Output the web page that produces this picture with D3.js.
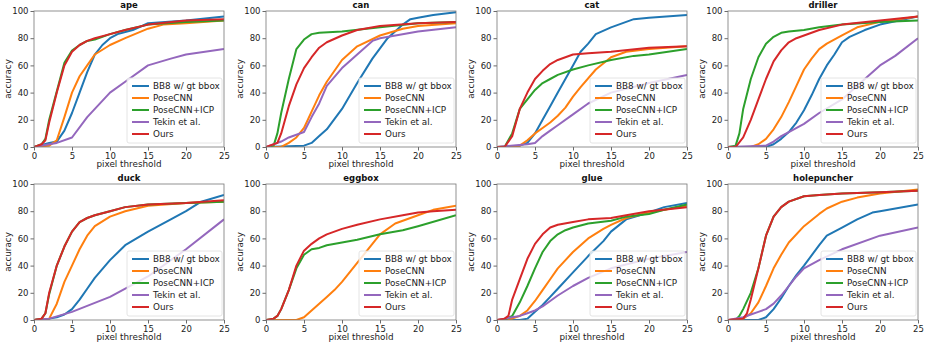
<!DOCTYPE html>
<html>
<head>
<meta charset="utf-8">
<script src="https://cdn.jsdelivr.net/npm/d3@7"></script>
<style>
  body { margin: 0; background: #fff; }
  svg { display: block; font-family: "DejaVu Sans", sans-serif; }
</style>
</head>
<body>
<svg id="svg" width="930" height="346"></svg>
<script>
// legend / series
const seriesNames = ["BB8 w/ gt bbox", "PoseCNN", "PoseCNN+ICP", "Tekin et al.", "Ours"];
const seriesColors = ["#1f77b4", "#ff7f0e", "#2ca02c", "#9467bd", "#d62728"];
const objects = ["ape", "can", "cat", "driller", "duck", "eggbox", "glue", "holepuncher"];
const xTicks = [0, 5, 10, 15, 20, 25];
const yTicks = [0, 20, 40, 60, 80, 100];

// each object: [bb8, posecnn, posecnn+icp, tekin, ours] as [threshold, accuracy]
const ape = [
  [[0,0],[2,3],[3,4],[4,12],[5,25],[6,40],[7,55],[8,68],[9,75],[10,80],[11,83],[13,86],[15,91],[20,93],[25,96]],
  [[0,0],[2,1],[3,5],[4,22],[5,40],[6,52],[7,60],[8,68],[10,75],[12,80],[15,87],[17,90],[20,91],[25,93]],
  [[0,0],[1,2],[1.5,6],[2,20],[3,41],[4,62],[5,71],[6,75],[7,78],[8,79],[10,83],[12,86],[15,90],[20,92],[25,93]],
  [[0,0],[2,2],[3,3],[5,7],[7,22],[10,40],[12,48],[15,60],[18,65],[20,68],[25,72]],
  [[0,0],[1,2],[1.5,5],[2,18],[3,40],[4,60],[5,70],[6,75],[7,78],[8,80],[10,83],[12,86],[15,90],[20,93],[25,94]]
];
const can = [
  [[0,0],[5,1],[6,3],[7,8],[8,13],[10,28],[12,47],[14,65],[16,80],[18,90],[19,94],[20,95],[22,97],[25,99]],
  [[0,0],[2,0],[3,3],[4,7],[5,14],[6,26],[7,38],[8,48],[10,64],[12,74],[15,82],[18,87],[20,89],[25,91]],
  [[0,0],[1,1],[1.5,10],[2,25],[3,50],[4,72],[5,79],[6,83],[7,84],[10,85],[15,88],[20,91],[25,92]],
  [[0,0],[1,2],[2,4],[3,7],[4,9],[5,11],[6,22],[7,32],[8,45],[10,58],[12,68],[14,78],[15,80],[20,85],[25,88]],
  [[0,0],[1.5,3],[2,10],[3,30],[4,46],[5,58],[6,66],[7,73],[8,77],[10,82],[12,86],[15,89],[20,91],[25,92]]
];
const cat = [
  [[0,0],[3,1],[4,3],[5,10],[6,20],[7,30],[8,40],[9,50],[10,60],[11,70],[12,76],[13,83],[15,88],[18,94],[20,95],[25,97]],
  [[0,0],[3,1],[4,5],[5,10],[6,14],[7,18],[8,23],[9,29],[10,37],[11,44],[13,57],[15,66],[17,70],[20,72],[25,74]],
  [[0,0],[1,0],[2,10],[3,28],[4,35],[5,42],[6,47],[7,50],[8,53],[10,57],[12,60],[15,64],[18,67],[20,68],[25,72]],
  [[0,0],[4,2],[5,3],[6,8],[7,12],[8,16],[10,24],[12,32],[15,40],[20,47],[25,53]],
  [[0,0],[1,0],[2,8],[3,28],[4,40],[5,50],[6,56],[7,61],[8,64],[10,68],[12,69],[15,70],[20,73],[25,74]]
];
const driller = [
  [[0,0],[5,0],[6,2],[7,6],[8,11],[9,18],[10,27],[11,38],[12,50],[13,60],[14,68],[15,77],[16,81],[18,86],[20,90],[25,96]],
  [[0,0],[3,0],[4,2],[5,6],[6,13],[7,22],[8,33],[9,45],[10,57],[11,65],[12,72],[13,76],[15,82],[17,88],[20,92],[25,96]],
  [[0,0],[1,1],[1.5,10],[2,28],[3,50],[4,66],[5,76],[6,81],[7,84],[8,85],[10,86],[12,88],[15,90],[20,92],[25,93]],
  [[0,0],[5,1],[6,4],[7,8],[8,11],[10,17],[12,25],[15,35],[18,50],[20,60],[22,67],[25,80]],
  [[0,0],[1,0],[2,7],[3,20],[4,35],[5,50],[6,63],[7,71],[8,77],[9,80],[10,82],[12,86],[15,90],[20,93],[25,96]]
];
const duck = [
  [[0,0],[2,1],[3,2],[4,4],[5,8],[6,15],[7,23],[8,31],[10,44],[12,55],[15,65],[18,74],[20,80],[22,87],[25,92]],
  [[0,0],[2,1],[3,12],[4,28],[5,40],[6,52],[7,62],[8,69],[10,76],[12,80],[15,84],[20,86],[25,87]],
  [[0,0],[1,1],[1.5,5],[2,19],[3,40],[4,54],[5,65],[6,72],[7,75],[8,77],[10,80],[12,83],[15,85],[20,86],[25,87]],
  [[0,0],[2,1],[5,6],[10,17],[15,32],[20,52],[25,74]],
  [[0,0],[1,1],[1.5,5],[2,20],[3,40],[4,54],[5,65],[6,72],[7,75],[8,77],[10,80],[12,83],[15,85],[20,86],[25,88]]
];
const eggbox = [
  [],
  [[0,0],[4,0],[5,2],[6,7],[7,12],[8,17],[9,22],[10,28],[12,42],[14,56],[15,63],[17,71],[20,77],[22,81],[25,84]],
  [[0,0],[1,1],[1.5,3],[2,8],[3,22],[4,38],[5,48],[6,52],[7,53],[8,55],[10,57],[12,59],[15,63],[18,66],[20,69],[25,77]],
  [],
  [[0,0],[1,1],[1.5,3],[2,8],[3,22],[4,40],[5,51],[6,56],[7,60],[8,63],[10,67],[12,70],[15,74],[18,77],[20,79],[22,80],[25,81]]
];
const glue = [
  [[0,0],[3,0],[4,1],[5,6],[6,11],[7,17],[8,23],[10,35],[12,47],[14,58],[15,65],[17,74],[20,79],[22,83],[25,86]],
  [[0,0],[2,1],[3,3],[4,7],[5,14],[6,22],[7,30],[8,38],[10,50],[12,60],[14,67],[15,70],[17,75],[20,79],[25,84]],
  [[0,0],[1,0],[2,3],[3,13],[4,25],[5,38],[6,50],[7,58],[8,63],[9,66],[10,68],[12,71],[15,73],[17,76],[20,78],[22,81],[25,85]],
  [[0,0],[2,2],[3,3],[4,5],[5,7],[6,10],[7,14],[8,18],[10,25],[12,31],[15,38],[20,45],[25,50]],
  [[0,0],[1,1],[1.5,3],[2,15],[3,30],[4,45],[5,56],[6,63],[7,68],[8,70],[10,72],[12,74],[15,75],[17,77],[20,80],[25,83]]
];
const holepuncher = [
  [[0,0],[4,0],[5,2],[6,8],[7,16],[8,25],[9,33],[10,40],[12,55],[13,62],[15,68],[17,74],[19,79],[20,80],[25,85]],
  [[0,0],[2,1],[3,5],[4,13],[5,25],[6,38],[7,48],[8,57],[10,69],[12,78],[13,82],[15,87],[17,90],[20,93],[25,96]],
  [[0,0],[1,0],[1.5,3],[2,8],[3,20],[4,38],[5,62],[6,76],[7,83],[8,87],[10,91],[12,92],[15,93],[20,94],[25,95]],
  [[0,0],[2,2],[3,4],[4,6],[5,8],[6,12],[7,18],[8,25],[9,32],[10,38],[12,44],[15,52],[20,62],[25,68]],
  [[0,0],[2,1],[2.5,5],[3,15],[4,38],[5,62],[6,76],[7,83],[8,87],[10,91],[12,92],[15,93],[20,94],[25,95]]
];
const allData = [ape, can, cat, driller, duck, eggbox, glue, holepuncher];

const colLeft = [34, 266, 497, 728];
const rowTop = [11, 184];
const pw = 190, ph = 136;

const svg = d3.select('#svg');

objects.forEach((name, i) => {
  const col = i % 4, row = Math.floor(i / 4);
  const g = svg.append("g").attr("transform", `translate(${colLeft[col]},${rowTop[row]})`);

  const x = d3.scaleLinear().domain([0, 25]).range([0, pw]);
  const y = d3.scaleLinear().domain([0, 100]).range([ph, 0]);

  const line = d3.line().x(d => x(d[0])).y(d => y(d[1]));

  g.append("defs").append("clipPath").attr("id", "clip" + i)
    .append("rect").attr("width", pw).attr("height", ph);

  const lines = g.append("g").attr("clip-path", `url(#clip${i})`);
  allData[i].forEach((s, k) => {
    if (!s.length) return;
    lines.append("path")
      .datum(s)
      .attr("fill", "none")
      .attr("stroke", seriesColors[k])
      .attr("stroke-width", 2)
      .attr("stroke-linejoin", "round")
      .attr("d", line);
  });

  // axes
  const xa = g.append("g").attr("transform", `translate(0,${ph})`)
    .call(d3.axisBottom(x).tickValues(xTicks).tickSize(3.5).tickPadding(2));
  const ya = g.append("g")
    .call(d3.axisLeft(y).tickValues(yTicks).tickSize(3.5).tickPadding(2));
  [xa, ya].forEach(a => {
    a.select(".domain").remove();
    a.selectAll("line").attr("stroke", "#444").attr("stroke-width", 0.8);
    a.selectAll("text").attr("font-size", 8.5).attr("fill", "#222")
      .attr("font-family", "DejaVu Sans, sans-serif");
  });

  g.append("rect").attr("width", pw).attr("height", ph)
    .attr("fill", "none").attr("stroke", "#777").attr("stroke-width", 0.8);

  // legend
  const lg = g.append("g").attr("transform", `translate(${pw - 97},${ph - 69})`);
  lg.append("rect").attr("width", 95).attr("height", 65).attr("rx", 2)
    .attr("fill", "#fff").attr("fill-opacity", 0.8)
    .attr("stroke", "#ddd").attr("stroke-width", 0.8);
  seriesNames.forEach((n, k) => {
    const yy = 8 + k * 12;
    lg.append("line").attr("x1", 5).attr("x2", 22).attr("y1", yy).attr("y2", yy)
      .attr("stroke", seriesColors[k]).attr("stroke-width", 2);
    lg.append("text").attr("x", 26).attr("y", yy).attr("dy", "0.35em")
      .attr("font-size", 8.8).attr("fill", "#222").text(n);
  });

  // title and labels
  g.append("text").attr("x", pw / 2).attr("y", -3).attr("text-anchor", "middle")
    .attr("font-size", 8.5).attr("font-weight", "bold").attr("fill", "#111").text(name);
  g.append("text").attr("x", pw / 2).attr("y", ph + 20).attr("text-anchor", "middle")
    .attr("font-size", 8.8).attr("fill", "#222").text("pixel threshold");
  g.append("text").attr("transform", `translate(-23,${ph / 2}) rotate(-90)`)
    .attr("text-anchor", "middle").attr("font-size", 8.8).attr("fill", "#222").text("accuracy");
});
</script>
</body>
</html>
